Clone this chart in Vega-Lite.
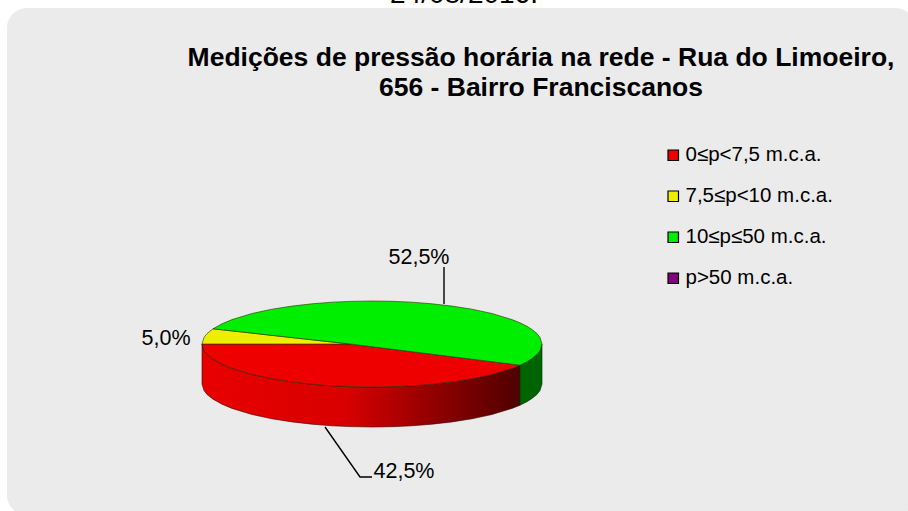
{
"$schema":"https://vega.github.io/schema/vega-lite/v6.json",
"width":908,"height":511,"padding":0,"autosize":"none","background":"white",
"view":{"stroke":null},
"title":{"text":["Medições de pressão horária na rede - Rua do Limoeiro,","656 - Bairro Franciscanos"],"font":"Liberation Sans","fontSize":26.5,"fontWeight":"bold","color":"black","anchor":"middle","align":"center","dx":87,"offset":-121,"lineHeight":30},
"datasets":{
"card":[{"x":7,"x2":915,"y":8,"y2":515}],
"top":[
{"x":202,"y":344,"y2":344,"faixa":"0≤p<7,5 m.c.a."},{"x":204,"y":350.6,"y2":344,"faixa":"0≤p<7,5 m.c.a."},{"x":207,"y":354.4,"y2":344,"faixa":"0≤p<7,5 m.c.a."},{"x":213,"y":359.2,"y2":344,"faixa":"0≤p<7,5 m.c.a."},{"x":222,"y":364.2,"y2":344,"faixa":"0≤p<7,5 m.c.a."},{"x":232,"y":368.4,"y2":344,"faixa":"0≤p<7,5 m.c.a."},{"x":252,"y":374.5,"y2":344,"faixa":"0≤p<7,5 m.c.a."},{"x":272,"y":378.8,"y2":344,"faixa":"0≤p<7,5 m.c.a."},{"x":292,"y":381.9,"y2":344,"faixa":"0≤p<7,5 m.c.a."},{"x":312,"y":384.2,"y2":344,"faixa":"0≤p<7,5 m.c.a."},{"x":332,"y":385.8,"y2":344,"faixa":"0≤p<7,5 m.c.a."},{"x":350,"y":386.6,"y2":344,"faixa":"0≤p<7,5 m.c.a."},{"x":372,"y":387,"y2":346.7,"faixa":"0≤p<7,5 m.c.a."},{"x":392,"y":386.7,"y2":349.2,"faixa":"0≤p<7,5 m.c.a."},{"x":412,"y":385.8,"y2":351.7,"faixa":"0≤p<7,5 m.c.a."},{"x":432,"y":384.2,"y2":354.2,"faixa":"0≤p<7,5 m.c.a."},{"x":452,"y":381.9,"y2":356.7,"faixa":"0≤p<7,5 m.c.a."},{"x":472,"y":378.8,"y2":359.2,"faixa":"0≤p<7,5 m.c.a."},{"x":492,"y":374.5,"y2":361.7,"faixa":"0≤p<7,5 m.c.a."},{"x":512,"y":368.4,"y2":364.2,"faixa":"0≤p<7,5 m.c.a."},{"x":520,"y":365.2,"y2":365.2,"faixa":"0≤p<7,5 m.c.a."},
{"x":202,"y":344,"y2":344,"faixa":"7,5≤p<10 m.c.a."},{"x":204,"y":344,"y2":337.4,"faixa":"7,5≤p<10 m.c.a."},{"x":207,"y":344,"y2":333.6,"faixa":"7,5≤p<10 m.c.a."},{"x":213,"y":344,"y2":328.8,"faixa":"7,5≤p<10 m.c.a."},{"x":350,"y":344,"y2":344,"faixa":"7,5≤p<10 m.c.a."},
{"x":213,"y":328.8,"y2":328.8,"faixa":"10≤p≤50 m.c.a."},{"x":222,"y":329.8,"y2":323.8,"faixa":"10≤p≤50 m.c.a."},{"x":232,"y":330.9,"y2":319.6,"faixa":"10≤p≤50 m.c.a."},{"x":252,"y":333.1,"y2":313.5,"faixa":"10≤p≤50 m.c.a."},{"x":272,"y":335.4,"y2":309.2,"faixa":"10≤p≤50 m.c.a."},{"x":292,"y":337.6,"y2":306.1,"faixa":"10≤p≤50 m.c.a."},{"x":312,"y":339.8,"y2":303.8,"faixa":"10≤p≤50 m.c.a."},{"x":332,"y":342,"y2":302.2,"faixa":"10≤p≤50 m.c.a."},{"x":350,"y":344,"y2":301.4,"faixa":"10≤p≤50 m.c.a."},{"x":372,"y":346.7,"y2":301,"faixa":"10≤p≤50 m.c.a."},{"x":392,"y":349.2,"y2":301.3,"faixa":"10≤p≤50 m.c.a."},{"x":412,"y":351.7,"y2":302.2,"faixa":"10≤p≤50 m.c.a."},{"x":432,"y":354.2,"y2":303.8,"faixa":"10≤p≤50 m.c.a."},{"x":452,"y":356.7,"y2":306.1,"faixa":"10≤p≤50 m.c.a."},{"x":472,"y":359.2,"y2":309.2,"faixa":"10≤p≤50 m.c.a."},{"x":492,"y":361.7,"y2":313.5,"faixa":"10≤p≤50 m.c.a."},{"x":512,"y":364.2,"y2":319.6,"faixa":"10≤p≤50 m.c.a."},{"x":520,"y":365.2,"y2":322.8,"faixa":"10≤p≤50 m.c.a."},{"x":527,"y":361.7,"y2":326.3,"faixa":"10≤p≤50 m.c.a."},{"x":532,"y":358.5,"y2":329.5,"faixa":"10≤p≤50 m.c.a."},{"x":537,"y":354.4,"y2":333.6,"faixa":"10≤p≤50 m.c.a."},{"x":540,"y":350.6,"y2":337.4,"faixa":"10≤p≤50 m.c.a."},{"x":542,"y":344,"y2":344,"faixa":"10≤p≤50 m.c.a."}
],
"wallRed":[{"x":202,"y":384,"y2":344},{"x":204,"y":390.6,"y2":350.6},{"x":207,"y":394.4,"y2":354.4},{"x":213,"y":399.2,"y2":359.2},{"x":222,"y":404.2,"y2":364.2},{"x":232,"y":408.4,"y2":368.4},{"x":252,"y":414.5,"y2":374.5},{"x":272,"y":418.8,"y2":378.8},{"x":292,"y":421.9,"y2":381.9},{"x":312,"y":424.2,"y2":384.2},{"x":332,"y":425.8,"y2":385.8},{"x":350,"y":426.6,"y2":386.6},{"x":372,"y":427,"y2":387},{"x":392,"y":426.7,"y2":386.7},{"x":412,"y":425.8,"y2":385.8},{"x":432,"y":424.2,"y2":384.2},{"x":452,"y":421.9,"y2":381.9},{"x":472,"y":418.8,"y2":378.8},{"x":492,"y":414.5,"y2":374.5},{"x":512,"y":408.4,"y2":368.4},{"x":520,"y":405.2,"y2":365.2}],
"wallGreen":[{"x":520,"y":405.2,"y2":365.2},{"x":527,"y":401.7,"y2":361.7},{"x":532,"y":398.5,"y2":358.5},{"x":537,"y":394.4,"y2":354.4},{"x":540,"y":390.6,"y2":350.6},{"x":542,"y":384,"y2":344}],
"leaders":[{"id":"a","x":444,"y":267},{"id":"a","x":444,"y":304},{"id":"b","x":325,"y":427},{"id":"b","x":360,"y":477},{"id":"b","x":372,"y":477}],
"labels":[{"x":419,"y":258,"t":"52,5%"},{"x":166,"y":339,"t":"5,0%"},{"x":404,"y":472,"t":"42,5%"}],
"head":[{"x":464,"y":2.5,"t":"24/08/2016."}]
},
"layer":[
{"data":{"name":"card"},"mark":{"type":"rect","fill":"#ebebeb","cornerRadius":20},
 "encoding":{"x":{"field":"x","type":"quantitative","scale":{"domain":[0,908],"nice":false,"zero":false},"axis":null},"x2":{"field":"x2"},"y":{"field":"y","type":"quantitative","scale":{"domain":[511,0],"nice":false,"zero":false},"axis":null},"y2":{"field":"y2"}}},
{"data":{"name":"wallRed"},"mark":{"type":"area","stroke":"#3a0000","strokeWidth":0.6,"color":{"gradient":"linear","x1":0,"y1":0,"x2":1,"y2":0,"stops":[{"offset":0,"color":"#e80000"},{"offset":0.45,"color":"#d80000"},{"offset":1,"color":"#4e0000"}]}},
 "encoding":{"x":{"field":"x","type":"quantitative"},"y":{"field":"y","type":"quantitative"},"y2":{"field":"y2"}}},
{"data":{"name":"wallGreen"},"mark":{"type":"area","color":"#006400","stroke":"#003000","strokeWidth":0.6},
 "encoding":{"x":{"field":"x","type":"quantitative"},"y":{"field":"y","type":"quantitative"},"y2":{"field":"y2"}}},
{"data":{"name":"top"},"mark":{"type":"area","stroke":"#2a2a00","strokeWidth":0.6},
 "encoding":{"x":{"field":"x","type":"quantitative"},"y":{"field":"y","type":"quantitative"},"y2":{"field":"y2"},
  "color":{"field":"faixa","type":"nominal","sort":null,"scale":{"domain":["0≤p<7,5 m.c.a.","7,5≤p<10 m.c.a.","10≤p≤50 m.c.a.","p>50 m.c.a."],"range":["#ee0000","#eeee00","#00ee00","#800080"]},
   "legend":{"orient":"none","legendX":663,"legendY":145,"title":null,"symbolType":"square","symbolSize":110,"symbolStrokeColor":"black","symbolStrokeWidth":1.2,"symbolOpacity":1,"labelFont":"Liberation Sans","labelFontSize":20.5,"labelColor":"black","labelOffset":2,"rowPadding":20,"labelLimit":240,"values":["0≤p<7,5 m.c.a.","7,5≤p<10 m.c.a.","10≤p≤50 m.c.a.","p>50 m.c.a."]}}}},
{"data":{"name":"leaders"},"mark":{"type":"line","color":"black","strokeWidth":1.4},
 "encoding":{"x":{"field":"x","type":"quantitative"},"y":{"field":"y","type":"quantitative"},"detail":{"field":"id"},"order":{"field":"x"}}},
{"data":{"name":"labels"},"mark":{"type":"text","font":"Liberation Sans","fontSize":21.5,"color":"black","align":"center","baseline":"middle"},
 "encoding":{"x":{"field":"x","type":"quantitative"},"y":{"field":"y","type":"quantitative"},"text":{"field":"t"}}},
{"data":{"name":"head"},"mark":{"type":"text","font":"Liberation Sans","fontSize":28,"color":"black","align":"center","baseline":"alphabetic"},
 "encoding":{"x":{"field":"x","type":"quantitative"},"y":{"field":"y","type":"quantitative"},"text":{"field":"t"}}}
]
}
